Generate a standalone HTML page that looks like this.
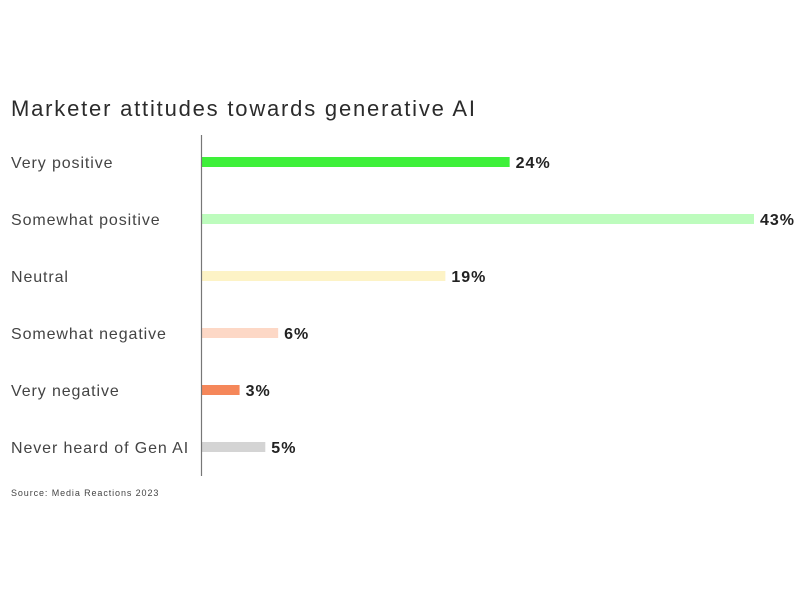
<!DOCTYPE html>
<html><head><meta charset="utf-8"><style>
body{margin:0;width:800px;height:600px;background:#fff;overflow:hidden;font-family:"Liberation Sans",sans-serif}
svg{display:block}
</style></head><body>
<svg width="800" height="600">
<text x="11" y="116" font-size="22" letter-spacing="1.8" fill="#2b2b2b">Marketer attitudes towards generative AI</text>
<g id="plot"></g>
<line x1="201.5" y1="135" x2="201.5" y2="476" stroke="#777" stroke-width="1.2"/>
<text x="11" y="496" font-size="9" letter-spacing="0.9" fill="#444">Source: Media Reactions 2023</text>
</svg>
<script>
const categories=["Very positive","Somewhat positive","Neutral","Somewhat negative","Very negative","Never heard of Gen AI"];
const values=[24,43,19,6,3,5];
const colors=["#3ef03a","#bdfcbd","#fdf3c6","#fdd8c6","#f5875a","#d4d4d4"];
const x0=201,scale=(754-201)/43;
function xPos(v){return x0+v*scale;}
function yPos(i){return 162+i*57;}
const g=document.getElementById('plot');
const NS="http://www.w3.org/2000/svg";
categories.forEach((c,i)=>{
 const y=yPos(i);
 const l=document.createElementNS(NS,'text');
 
 
 l.setAttribute('x',11);l.setAttribute('y',y+6);l.setAttribute('font-size','16');l.setAttribute('letter-spacing','0.9');l.setAttribute('fill','#444');
 l.textContent=c;g.appendChild(l);
 const r=document.createElementNS(NS,'rect');
 
 
 r.setAttribute('x',x0);r.setAttribute('y',y-5);r.setAttribute('width',xPos(values[i])-x0);r.setAttribute('height',10);r.setAttribute('fill',colors[i]);
 g.appendChild(r);
 const t=document.createElementNS(NS,'text');
 
 
 t.setAttribute('x',xPos(values[i])+6);t.setAttribute('y',y+6);t.setAttribute('font-size','16');t.setAttribute('letter-spacing','1');t.setAttribute('font-weight','bold');t.setAttribute('fill','#222');
 t.textContent=values[i]+'%';g.appendChild(t);
});
</script>
</body></html>
